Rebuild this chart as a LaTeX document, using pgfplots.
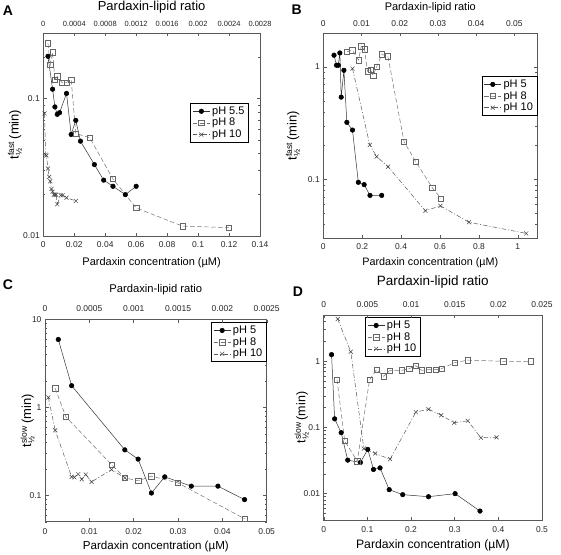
\documentclass[border=0pt]{standalone}
\usepackage{fontspec}
\setmainfont{Liberation Sans}
\usepackage{pgfplots}
\pgfplotsset{compat=1.18}

\pgfplotsset{
  myaxisstyle/.style={
    scale only axis, anchor=south west,
    scaled x ticks=false, scaled y ticks=false,
    axis line style={black!65, line width=0.5pt},
    every tick/.style={black!65, line width=0.4pt},
    major tick length=3.5pt, minor tick length=2pt,
    tick align=inside,
    tick label style={font=\fontsize{8.5}{10}\selectfont, text=black!85},
    every axis x label/.style={anchor=center, font=\fontsize{11}{13}\selectfont},
    every axis y label/.style={rotate=90, anchor=center, font=\fontsize{13}{15}\selectfont},
    xtick pos=left, yticklabel pos=left,
    legend cell align=left,
    legend style={font=\fontsize{11}{12}\selectfont, draw=black, line width=0.8pt,
      inner xsep=2pt, inner ysep=1.5pt, row sep=-1.5pt},
  },
  mytopstyle/.style={
    scale only axis, anchor=south west,
    scaled x ticks=false, scaled y ticks=false,
    axis x line*=top, axis y line=none,
    axis line style={black!65, line width=0.5pt},
    every tick/.style={black!65, line width=0.4pt},
    major tick length=3.5pt, tick align=inside,
    tick label style={font=\fontsize{8.5}{10}\selectfont, text=black!85},
    xticklabel style={yshift=2.5pt},
    every axis x label/.style={anchor=center, font=\fontsize{11}{13}\selectfont},
  },
  s5/.style={black!80, line width=0.5pt, solid, mark=*, mark size=2.3pt,
    mark options={solid, fill=black, draw=black}},
  s8/.style={black!55, line width=0.5pt, dash pattern=on 4.5pt off 2.5pt, mark=square,
    mark size=2.7pt, mark options={solid, draw=black!60, fill=white}},
  s10/.style={black!65, line width=0.5pt, dash pattern=on 4.5pt off 2pt on 1pt off 2pt,
    mark=x, mark size=2.8pt, mark options={solid, draw=black!75}},
}

\newcommand{\tfast}{t$_{\mbox{\fontsize{8.5}{9}\selectfont ½}}^{\mbox{\fontsize{8.5}{9}\selectfont fast}}$\,(min)}
\newcommand{\tslow}{t$_{\mbox{\fontsize{8.5}{9}\selectfont ½}}^{\mbox{\fontsize{8.5}{9}\selectfont slow}}$\,(min)}

% ---------- Panel A ----------
\pgfplotstableread{
x y
0.003 0.203
0.006 0.117
0.0075 0.0869
0.009 0.0768
0.0105 0.079
0.015 0.109
0.018 0.0548
0.021 0.0694
0.024 0.049
0.033 0.0331
0.039 0.0255
0.045 0.0230
0.053 0.0200
0.060 0.0230
}\Afive
\pgfplotstableread{
x y
0.003 0.252
0.0045 0.176
0.006 0.217
0.0075 0.137
0.009 0.145
0.012 0.131
0.015 0.131
0.018 0.137
0.021 0.0557
0.030 0.0519
0.045 0.026
0.060 0.016
0.090 0.0118
0.120 0.0115
}\Aeight
\pgfplotstableread{
x y
0.0008 0.078
0.0015 0.039
0.002 0.0385
0.003 0.031
0.0038 0.027
0.0045 0.025
0.0053 0.022
0.006 0.021
0.0068 0.020
0.0075 0.020
0.0083 0.020
0.009 0.017
0.0112 0.0198
0.0125 0.0198
0.015 0.019
0.021 0.018
}\Aten
% ---------- Panel B ----------
\pgfplotstableread{
x y
0.055 1.27
0.068 1.035
0.077 1.035
0.085 1.33
0.092 0.539
0.106 0.933
0.121 0.322
0.150 0.275
0.180 0.0946
0.210 0.0902
0.240 0.0724
0.300 0.0724
}\Bfive
\pgfplotstableread{
x y
0.121 1.36
0.149 1.41
0.181 1.15
0.195 1.53
0.212 1.43
0.227 0.914
0.243 0.946
0.256 0.837
0.274 1.0
0.301 1.29
0.332 1.24
0.415 0.217
0.475 0.144
0.561 0.0842
0.605 0.068
}\Beight
\pgfplotstableread{
x y
0.150 0.966
0.239 0.203
0.274 0.160
0.333 0.130
0.525 0.0528
0.602 0.0585
0.749 0.0418
1.043 0.0333
}\Bten
% ---------- Panel C ----------
\pgfplotstableread{
x y
0.003 5.94
0.006 1.77
0.018 0.329
0.021 0.258
0.024 0.106
0.027 0.162
0.033 0.127
0.039 0.127
0.045 0.0893
}\Cfive
\pgfplotstableread{
x y
0.0023 1.65
0.0047 0.783
0.015 0.224
0.018 0.158
0.021 0.146
0.024 0.165
0.030 0.138
0.045 0.054
}\Ceight
\pgfplotstableread{
x y
0.00075 1.30
0.0023 0.55
0.006 0.162
0.0066 0.160
0.0075 0.174
0.0083 0.152
0.0092 0.172
0.0105 0.142
0.015 0.196
0.018 0.158
}\Cten
% ---------- Panel D ----------
\pgfplotstableread{
x y
0.018 1.26
0.025 0.135
0.040 0.0835
0.055 0.0321
0.084 0.0296
0.101 0.0466
0.114 0.0232
0.129 0.0245
0.150 0.0115
0.181 0.00966
0.240 0.0090
0.301 0.0100
0.358 0.00546
}\Dfive
\pgfplotstableread{
x y
0.0305 0.527
0.048 0.063
0.077 0.031
0.105 0.527
0.121 0.747
0.137 0.592
0.151 0.721
0.179 0.730
0.196 0.774
0.211 0.859
0.224 0.730
0.240 0.747
0.256 0.747
0.270 0.774
0.300 0.954
0.330 1.04
0.411 1.0
0.474 1.0
}\Deight
\pgfplotstableread{
x y
0.032 4.35
0.062 1.39
0.092 0.048
0.118 0.0405
0.152 0.0332
0.211 0.170
0.240 0.189
0.269 0.153
0.299 0.118
0.330 0.126
0.360 0.070
0.396 0.071
}\Dten

\begin{document}
\begin{tikzpicture}
\path[use as bounding box] (0,0) rectangle (561pt,554pt);

% ===== A =====
\begin{axis}[myaxisstyle, ymode=log, at={(43.3pt,318pt)}, width=216.7pt, height=203pt,
  xmin=0, xmax=0.14, ymin=0.01, ymax=0.3,
  xtick={0,0.02,0.04,0.06,0.08,0.1,0.12,0.14},
  xticklabels={0,0.02,0.04,0.06,0.08,0.1,0.12,0.14},
  xticklabel style={yshift=-2.5pt},
  ytick={0.01,0.1}, yticklabels={0.01,0.1},
  minor ytick={0.02,0.03,0.04,0.05,0.06,0.07,0.08,0.09,0.2,0.3},
  xlabel={Pardaxin concentration (µM)},
  xlabel style={at={(axis description cs:0.5,-0.131)}},
  ylabel={\tfast},
  ylabel style={at={(axis description cs:-0.131,0.5)}},
  legend style={at={(0.949,0.656)}, anchor=north east},
]
\addplot[s5] table {\Afive};
\addplot[s8] table {\Aeight};
\addplot[s10] table {\Aten};
\legend{pH 5.5, pH 8, pH 10}
\end{axis}
\begin{axis}[mytopstyle, at={(43.3pt,318pt)}, width=216.7pt, height=203pt,
  xmin=0, xmax=0.0028, ymin=0, ymax=1,
  xtick={0,0.0004,0.0008,0.0012,0.0016,0.002,0.0024,0.0028},
  xticklabels={0,0.0004,0.0008,0.0012,0.0016,0.002,0.0024,0.0028},
  xticklabel style={font=\fontsize{7.5}{9}\selectfont, yshift=0.5pt},
  xlabel={Pardaxin-lipid ratio},
  xlabel style={font=\fontsize{13}{15}\selectfont, at={(axis description cs:0.5,1.128)}},
]
\end{axis}

% ===== B =====
\begin{axis}[myaxisstyle, ymode=log, at={(323.3pt,315.5pt)}, width=214pt, height=205.5pt,
  xmin=0, xmax=1.1, ymin=0.03, ymax=2,
  xtick={0,0.2,0.4,0.6,0.8,1},
  xticklabels={0,0.2,0.4,0.6,0.8,1},
  xticklabel style={yshift=-2pt},
  ytick={0.1,1}, yticklabels={0.1,1},
  minor ytick={0.03,0.04,0.05,0.06,0.07,0.08,0.09,0.2,0.3,0.4,0.5,0.6,0.7,0.8,0.9,2},
  xlabel={Pardaxin concentration (µM)},
  xlabel style={font=\fontsize{10.8}{13}\selectfont, at={(axis description cs:0.5,-0.119)}},
  ylabel={\tfast},
  ylabel style={at={(axis description cs:-0.142,0.5)}},
  legend style={at={(1.0,0.791)}, anchor=north east},
]
\addplot[s5] table {\Bfive};
\addplot[s8] table {\Beight};
\addplot[s10] table {\Bten};
\legend{pH 5, pH 8, pH 10}
\end{axis}
\begin{axis}[mytopstyle, at={(323.3pt,315.5pt)}, width=214pt, height=205.5pt,
  xmin=0, xmax=0.056, ymin=0, ymax=1,
  xtick={0,0.01,0.02,0.03,0.04,0.05},
  xticklabels={0,0.01,0.02,0.03,0.04,0.05},
  xlabel={Pardaxin-lipid ratio},
  xlabel style={font=\fontsize{11}{13}\selectfont, at={(axis description cs:0.5,1.125)}},
]
\end{axis}

% ===== C =====
\begin{axis}[myaxisstyle, ymode=log, at={(45pt,32.3pt)}, width=221.7pt, height=202.1pt,
  xmin=0, xmax=0.05, ymin=0.05, ymax=10,
  xtick={0,0.01,0.02,0.03,0.04,0.05},
  xticklabels={0,0.01,0.02,0.03,0.04,0.05},
  xticklabel style={yshift=-3pt},
  ytick={0.1,1,10}, yticklabels={0.1,1,10},
  minor ytick={0.05,0.06,0.07,0.08,0.09,0.2,0.3,0.4,0.5,0.6,0.7,0.8,0.9,2,3,4,5,6,7,8,9},
  xlabel={Pardaxin concentration (µM)},
  xlabel style={font=\fontsize{11.6}{14}\selectfont, at={(axis description cs:0.5,-0.124)}},
  ylabel={\tslow},
  ylabel style={at={(axis description cs:-0.079,0.5)}},
  legend style={at={(1.0,0.988)}, anchor=north east},
]
\addplot[s5] table {\Cfive};
\addplot[s8] table {\Ceight};
\addplot[s10] table {\Cten};
\legend{pH 5, pH 8, pH 10}
\end{axis}
\begin{axis}[mytopstyle, at={(45pt,32.3pt)}, width=221.7pt, height=202.1pt,
  xmin=0, xmax=0.0025, ymin=0, ymax=1,
  xtick={0,0.0005,0.001,0.0015,0.002,0.0025},
  xticklabels={0,0.0005,0.001,0.0015,0.002,0.0025},
  xticklabel style={yshift=1.5pt},
  xlabel={Pardaxin-lipid ratio},
  xlabel style={font=\fontsize{11.2}{13}\selectfont, at={(axis description cs:0.5,1.146)}},
]
\end{axis}

% ===== D =====
\begin{axis}[myaxisstyle, ymode=log, at={(323.7pt,34pt)}, width=218.3pt, height=205pt,
  xmin=0, xmax=0.5, ymin=0.004, ymax=5,
  ytick pos=left,
  xtick={0,0.1,0.2,0.3,0.4,0.5},
  xticklabels={0,0.1,0.2,0.3,0.4,0.5},
  xticklabel style={yshift=-3.5pt},
  ytick={0.01,0.1,1}, yticklabels={0.01,0.1,1},
  minor ytick={0.004,0.005,0.006,0.007,0.008,0.009,0.02,0.03,0.04,0.05,0.06,0.07,0.08,0.09,0.2,0.3,0.4,0.5,0.6,0.7,0.8,0.9,2,3,4,5},
  xlabel={Pardaxin concentration (µM)},
  xlabel style={font=\fontsize{12.2}{14}\selectfont, at={(axis description cs:0.5,-0.122)}},
  ylabel={\tslow},
  ylabel style={font=\fontsize{12.5}{14}\selectfont, at={(axis description cs:-0.101,0.5)}},
  legend style={at={(0.189,0.99)}, anchor=north west},
]
\addplot[s5] table {\Dfive};
\addplot[s8] table {\Deight};
\addplot[s10] table {\Dten};
\legend{pH 5, pH 8, pH 10}
\end{axis}
% top ratio axis and right log labels (log10 units)
\begin{axis}[mytopstyle, at={(323.7pt,34pt)}, width=218.3pt, height=205pt,
  axis y line*=right,
  ymin=-2.398, ymax=0.699,
  ytick={-2,-1,0}, yticklabels={0.01,0.1,1},
  minor ytick={-2.301,-2.222,-2.155,-2.097,-2.046,-1.699,-1.523,-1.398,-1.301,-1.222,-1.155,-1.097,-1.046,-0.699,-0.523,-0.398,-0.301,-0.222,-0.155,-0.097,-0.046,0.301,0.477,0.602},
  minor tick length=2pt,
  yticklabel style={font=\fontsize{8}{9}\selectfont},
  xmin=0, xmax=0.025,
  xtick={0,0.005,0.01,0.015,0.02,0.025},
  xticklabels={0,0.005,0.01,0.015,0.02,0.025},
  xticklabel style={yshift=1.5pt},
  xlabel={Pardaxin-lipid ratio},
  xlabel style={font=\fontsize{13.5}{15}\selectfont, at={(axis description cs:0.5,1.162)}},
]
\end{axis}

% panel letters
\node[font=\bfseries\fontsize{14}{15}\selectfont] at (8pt,543pt) {A};
\node[font=\bfseries\fontsize{14}{15}\selectfont] at (296.7pt,544.5pt) {B};
\node[font=\bfseries\fontsize{14}{15}\selectfont] at (8pt,269pt) {C};
\node[font=\bfseries\fontsize{14}{15}\selectfont] at (298pt,262.3pt) {D};
\end{tikzpicture}
\end{document}
